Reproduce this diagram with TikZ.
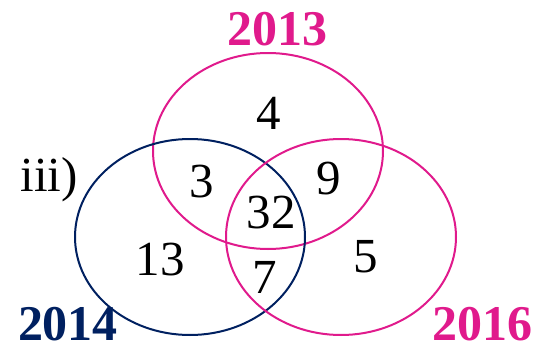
\documentclass[tikz,border=0pt]{standalone}
\usepackage{fontspec}
\setmainfont{Liberation Serif}
\usetikzlibrary{shapes.geometric}

\definecolor{venpink}{RGB}{224,26,140}
\definecolor{vennavy}{RGB}{0,32,96}

\tikzset{
  setring/.style={ellipse, draw=#1, line width=2pt, minimum width=230pt, minimum height=196pt, inner sep=0pt},
  yearlabel/.style={text=#1, font=\fontsize{50}{50}\selectfont\bfseries, inner sep=0pt},
  count/.style={font=\fontsize{49}{49}\selectfont, inner sep=0pt}
}

\begin{document}
\begin{tikzpicture}[x=1pt, y=-1pt]
  \useasboundingbox (0,0) rectangle (539,351);

  % The three sets
  \node[setring=venpink] (set2013) at (268,151) {};
  \node[setring=vennavy] (set2014) at (190,237) {};
  \node[setring=venpink] (set2016) at (341,237) {};

  % Year labels
  \node[yearlabel=venpink] (lab2013) at (277,29) {2013};
  \node[yearlabel=vennavy] (lab2014) at (68,324) {2014};
  \node[yearlabel=venpink] (lab2016) at (482,324) {2016};

  % Part label
  \node[count, anchor=base] (part) at (49,191) {iii)};

  % Counts in each region
  \foreach \name/\val/\px/\py in {only13/4/269/113, both1314/3/202/182, both1316/9/329/179,
      all/32/271/213, only14/13/160/260, only16/5/366/257, both1416/7/265/277} {
    \node[count] (\name) at (\px,\py) {\val};
  }
\end{tikzpicture}
\end{document}
